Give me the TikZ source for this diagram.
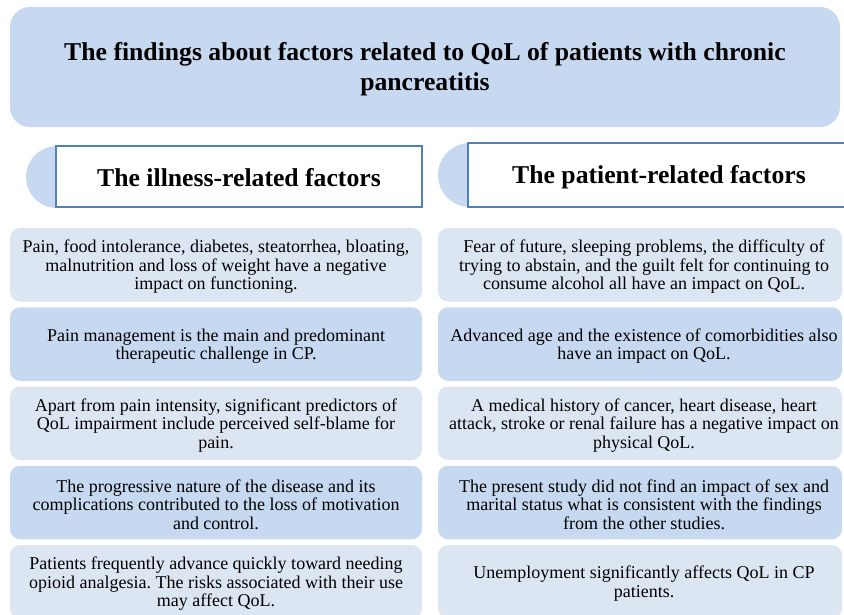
\documentclass[tikz,border=0pt]{standalone}
\usepackage{fontspec}
\setmainfont{Liberation Serif}
\frenchspacing
\begin{document}
\definecolor{boxdark}{HTML}{C6D9F1}
\definecolor{boxlight}{HTML}{DCE6F2}
\definecolor{frameblue}{HTML}{4F81BD}
\begin{tikzpicture}[x=1pt,y=-1pt,
  titlebox/.style={fill=boxdark, rounded corners=20pt, minimum width=830pt, minimum height=120pt,
    inner sep=0pt},
  headbox/.style={fill=white, draw=frameblue, line width=2pt, inner sep=0pt},
  headcap/.style={fill=boxdark},
  bigtext/.style={align=center, inner sep=0pt, font=\fontsize{25.7}{30}\selectfont\bfseries},
  cell/.style={rounded corners=10pt, minimum height=73.5pt, inner sep=0pt},
  celltext/.style={align=center, inner sep=0pt, font=\fontsize{18}{18.5}\selectfont},
  lcell/.style={cell, minimum width=412pt},
  rcell/.style={cell, minimum width=404pt},
  lt/.style={fill=boxlight},
  dk/.style={fill=boxdark}]
\useasboundingbox (0,0) rectangle (844,614);
\clip (0,0) rectangle (844,614);

% title banner
\node[titlebox] (title) at (425,67) {};
\node[bigtext] (titletext) at ([yshift=-2.5pt]title.center)
  {The findings about factors related to QoL of patients with chronic\\pancreatitis};

% column headers with their rounded caps
\fill[headcap] (57,177) circle (31);
\node[headbox, minimum width=366pt, minimum height=61pt] (illness) at (239,176.5) {};
\node[bigtext] (illnesstext) at ([yshift=-1.5pt]illness.center) {The illness-related factors};
\fill[headcap] (470,175) circle (32);
\node[headbox, minimum width=382pt, minimum height=64pt] (patient) at (659,175) {};
\node[bigtext] (patienttext) at ([yshift=-2.5pt]patient.center) {The patient-related factors};

% boxes of both columns
\node[lcell, lt] (l1) at (216,264.75) {};
\node[lcell, dk] (l2) at (216,344) {};
\node[lcell, lt] (l3) at (216,423.25) {};
\node[lcell, dk] (l4) at (216,502.5) {};
\node[lcell, lt] (l5) at (216,581.75) {};
\node[rcell, lt] (r1) at (640,264.75) {};
\node[rcell, dk] (r2) at (640,344) {};
\node[rcell, lt] (r3) at (640,423.25) {};
\node[rcell, dk] (r4) at (640,502.5) {};
\node[rcell, lt] (r5) at (640,581.75) {};

% illness-related findings
\begin{scope}[every node/.append style={celltext}]
\node (l1t) at ([yshift=-2pt]l1.center)
  {Pain, food intolerance, diabetes, steatorrhea, bloating,\\malnutrition and loss of weight have a negative\\impact on functioning.};
\node (l2t) at ([yshift=-2pt]l2.center)
  {Pain management is the main and predominant\\therapeutic challenge in CP.};
\node (l3t) at ([yshift=-2pt]l3.center)
  {Apart from pain intensity, significant predictors of\\QoL impairment include perceived self-blame for\\pain.};
\node (l4t) at ([yshift=-2pt]l4.center)
  {The progressive nature of the disease and its\\complications contributed to the loss of motivation\\and control.};
\node (l5t) at ([yshift=-2pt]l5.center)
  {Patients frequently advance quickly toward needing\\opioid analgesia. The risks associated with their use\\may affect QoL.};

% patient-related findings
\node (r1t) at ([xshift=4pt,yshift=-2pt]r1.center)
  {Fear of future, sleeping problems, the difficulty of\\trying to abstain, and the guilt felt for continuing to\\consume alcohol all have an impact on QoL.};
\node (r2t) at ([xshift=4pt,yshift=-2pt]r2.center)
  {Advanced age and the existence of comorbidities also\\have an impact on QoL.};
\node (r3t) at ([xshift=4pt,yshift=-2pt]r3.center)
  {A medical history of cancer, heart disease, heart\\attack, stroke or renal failure has a negative impact on\\physical QoL.};
\node (r4t) at ([xshift=4pt,yshift=-2pt]r4.center)
  {The present study did not find an impact of sex and\\marital status what is consistent with the findings\\from the other studies.};
\node (r5t) at ([xshift=4pt,yshift=-2pt]r5.center)
  {Unemployment significantly affects QoL in CP\\patients.};
\end{scope}
\end{tikzpicture}
\end{document}
